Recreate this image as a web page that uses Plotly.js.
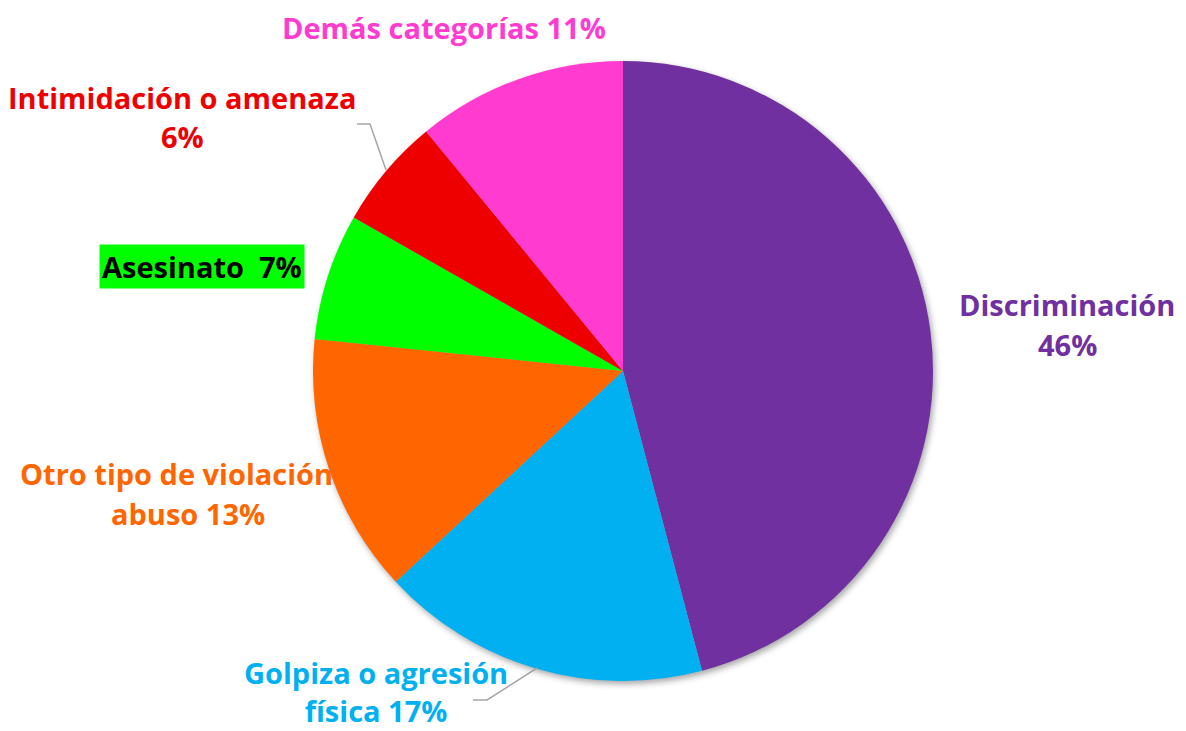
<!DOCTYPE html>
<html><head><meta charset="utf-8">
<script src="https://cdn.plot.ly/plotly-3.0.1.min.js"></script>
<style>html,body{margin:0;padding:0;background:#fff}#c{width:1186px;height:731px}
#c .pielayer .trace{filter:drop-shadow(2px 3px 3px rgba(0,0,0,0.35));}</style>
</head><body><div id="c"></div>
<script>
const categories = ["Discriminación","Golpiza o agresión física","Otro tipo de violación abuso","Asesinato","Intimidación o amenaza","Demás categorías"];
const values = [45.9,17.2,13.55,6.6,5.8,10.95];
const colors = ["#7030A0","#00B0F0","#FF6600","#00FF00","#EE0000","#FF3CCF"];
const labelLines = [
  ["Discriminación","46%"],
  ["Golpiza o agresión<br>física 17%"],
  ["Otro tipo de violación","abuso 13%"],
  ["Asesinato  7%"],
  ["Intimidación o amenaza","6%"],
  ["Demás categorías 11%"]
];
const W=1186,H=731;
const px=x=>x/W, py=y=>1-y/H;
const labelPos = [
  [[1067,304],[1067,344]],
  [[376,null]],
  [[176,473],[188,513]],
  [[202,266]],
  [[182,98],[182,136]],
  [[444,27]]
];
const annotations=[];
labelLines.forEach((lines,i)=>{
  lines.forEach((t,j)=>{
    const p=labelPos[i][j];
    const a={text:t,x:px(p[0]),y:p[1]===null?0:py(p[1]),xref:'paper',yref:'paper',showarrow:false,
      xanchor:'center',yanchor:p[1]===null?'bottom':'middle',borderpad:0,
      font:{family:'Open Sans, Arial, sans-serif',size:29,color:i===3?'#000':colors[i],weight:'bold'}};
    if(i===3){a.bgcolor=colors[3];a.borderpad=2;}
    annotations.push(a);
  });
});
const shapes=[
  {type:'path',xref:'paper',yref:'paper',path:`M ${px(357)} ${py(124)} L ${px(370)} ${py(124)} L ${px(386)} ${py(170)}`,line:{color:'#A6A6A6',width:1.5}},
  {type:'path',xref:'paper',yref:'paper',path:`M ${px(473)} ${py(700)} L ${px(487)} ${py(700)} L ${px(537)} ${py(668)}`,line:{color:'#A6A6A6',width:1.5}}
];
Plotly.newPlot('c',[{
  type:'pie',labels:categories,values:values,sort:false,direction:'clockwise',rotation:0,
  marker:{colors:colors,line:{width:0}},textinfo:'none',hoverinfo:'label+percent',
  domain:{x:[px(313),px(933)],y:[py(681),py(61)]}
}],{
  width:W,height:H,margin:{l:0,r:0,t:0,b:0},showlegend:false,
  paper_bgcolor:'#fff',annotations:annotations,shapes:shapes
},{displayModeBar:false});
</script></body></html>
